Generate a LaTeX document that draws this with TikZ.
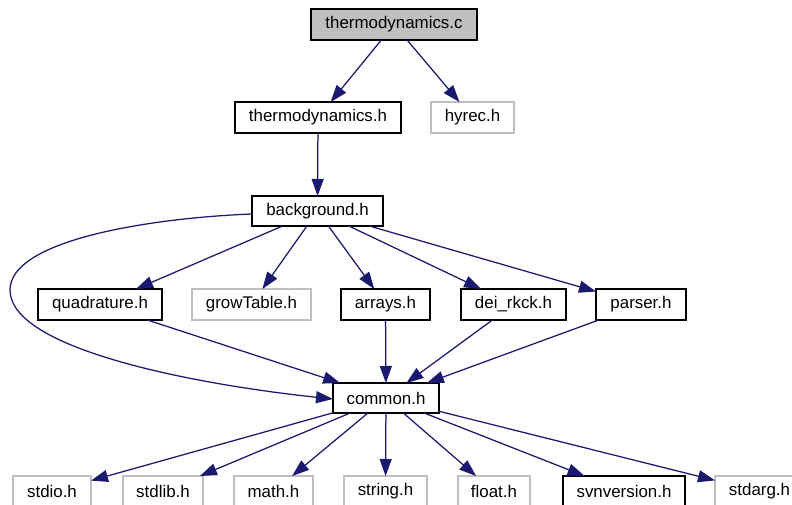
\documentclass[tikz,border=0pt]{standalone}
\usepackage{fontspec}
\setmainfont{Liberation Sans}
\usetikzlibrary{arrows.meta}
\definecolor{navy}{HTML}{191970}
\definecolor{boxgray}{HTML}{BFBFBF}
\definecolor{fillgray}{HTML}{BFBFBF}
\tikzset{
  box/.style={draw=black, line width=1.3pt, minimum height=31pt, inner sep=0pt, outer sep=0pt,
    font=\fontsize{16.9}{20}\selectfont, fill=white},
  gbox/.style={box, draw=boxgray},
  dep/.style={draw=navy, line width=1.25pt, -{Triangle[length=17pt,width=12pt]}}
}
\begin{document}
\begin{tikzpicture}[x=1pt,y=-1pt]
\useasboundingbox[fill=white] (0,0) rectangle (792,505);
% nodes
\node[box, fill=fillgray, minimum width=166pt] (tc) at (394,24.5) {thermodynamics.c};
\node[box, minimum width=166pt] (th) at (318,117.5) {thermodynamics.h};
\node[gbox, minimum width=83pt] (hy) at (472.5,117.5) {hyrec.h};
\node[box, minimum width=131pt, minimum height=30pt] (bg) at (317.5,211) {background.h};
\node[box, minimum width=124pt] (qd) at (100,304.5) {quadrature.h};
\node[gbox, minimum width=119pt] (gt) at (251.5,304.5) {growTable.h};
\node[box, minimum width=89pt] (ar) at (385.5,304.5) {arrays.h};
\node[box, minimum width=105pt] (dr) at (513.5,304.5) {dei\_rkck.h};
\node[box, minimum width=90pt] (ps) at (641,304.5) {parser.h};
\node[box, minimum width=106pt, minimum height=30pt] (cm) at (386,398) {common.h};
\node[gbox, minimum width=78pt] (sio) at (52,491.5) {stdio.h};
\node[gbox, minimum width=80pt] (slb) at (163,491.5) {stdlib.h};
\node[gbox, minimum width=79pt] (mth) at (273.5,491.5) {math.h};
\node[gbox, minimum width=83pt] (str) at (385.5,491.5) {string.h};
\node[gbox, minimum width=72pt] (flt) at (494,491.5) {float.h};
\node[box, minimum width=122pt] (svn) at (624,491.5) {svnversion.h};
\node[gbox, minimum width=89pt] (sag) at (759.5,491.5) {stdarg.h};
% edges
\draw[dep] (tc) -- (th);
\draw[dep] (tc) -- (hy);
\draw[dep] (th) -- (bg);
\draw[dep] (bg) -- (qd);
\draw[dep] (bg) -- (gt);
\draw[dep] (bg) -- (ar);
\draw[dep] (bg) -- (dr);
\draw[dep] (bg) -- (ps);
\draw[dep] ([yshift=-3pt]bg.west) .. controls (150,218) and (10,240) .. (10,290)
  .. controls (10,350) and (200,385) .. ([yshift=-1pt]cm.west);
\draw[dep] (qd) -- (cm);
\draw[dep] (ar) -- (cm);
\draw[dep] (dr) -- (cm);
\draw[dep] (ps) -- (cm);
\draw[dep] (cm) -- (sio);
\draw[dep] (cm) -- (slb);
\draw[dep] (cm) -- (mth);
\draw[dep] (cm) -- (str);
\draw[dep] (cm) -- (flt);
\draw[dep] (cm) -- (svn);
\draw[dep] (cm) -- (sag);
\end{tikzpicture}
\end{document}
